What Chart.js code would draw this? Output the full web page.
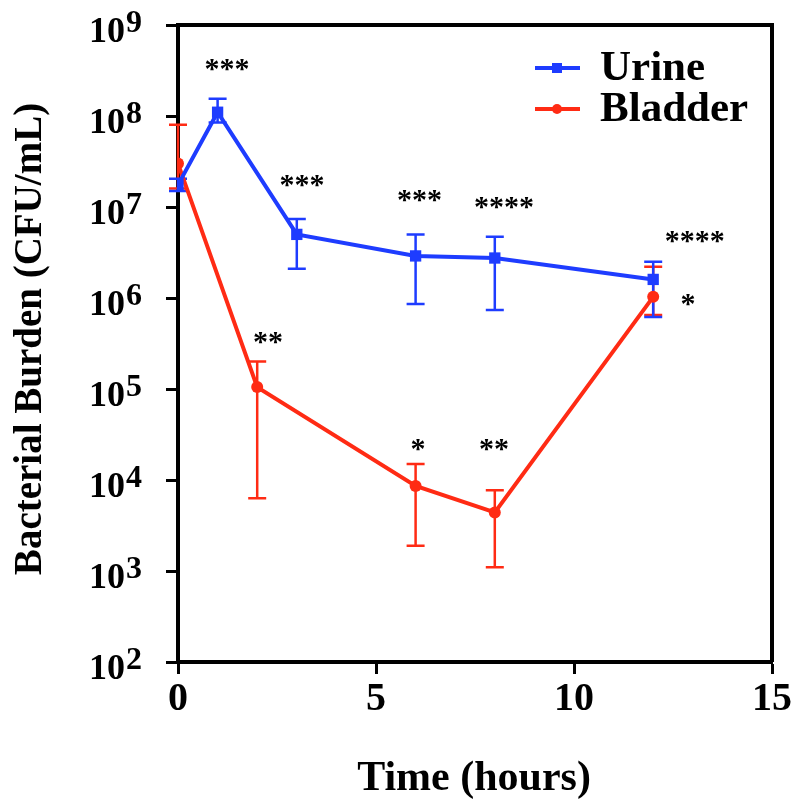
<!DOCTYPE html>
<html>
<head>
<meta charset="utf-8">
<script src="https://cdn.jsdelivr.net/npm/chart.js@4.4.0/dist/chart.umd.min.js"></script>
<style>
  html, body { margin: 0; padding: 0; background: #fff; }
  #chart { display: block; }
</style>
</head>
<body>
<canvas id="chart" width="798" height="804"></canvas>
<script>
// data (CFU/mL, log scale)
const urineTimes = [0, 1, 3, 6, 8, 12];
const urineValues = [1.75e7, 1.1e8, 5.0e6, 2.9e6, 2.75e6, 1.6e6];
const urineHigh = [2.05e7, 1.55e8, 7.4e6, 5.0e6, 4.7e6, 2.5e6];
const urineLow = [1.5e7, 8.5e7, 2.1e6, 8.6e5, 7.4e5, 6.2e5];

const bladderTimes = [0, 2, 6, 8, 12];
const bladderValues = [3.0e7, 1.05e5, 8.6e3, 4.4e3, 1.03e6];
const bladderHigh = [8.0e7, 2.0e5, 1.5e4, 7.7e3, 2.2e6];
const bladderLow = [1.6e7, 6.3e3, 1.9e3, 1.1e3, 6.5e5];

const xTicks = [0, 5, 10, 15];
const yTicks = [1e2, 1e3, 1e4, 1e5, 1e6, 1e7, 1e8, 1e9];

// significance marks (time, CFU/mL, text)
const starTimes = [1.24, 3.13, 2.27, 6.1, 8.23, 13.05, 12.88, 6.06, 7.98];
const starValues = [3.6e8, 1.9e7, 3.6e5, 1.3e7, 1.1e7, 4.7e6, 9.5e5, 2.4e4, 2.4e4];
const starLabels = ['***', '***', '**', '***', '****', '****', '*', '*', '**'];

const blue = '#1e3cff';
const red = '#ff2b14';
const serif = '"Liberation Serif", "Times New Roman", serif';

function toPoints(xs, ys) {
  return xs.map((t, i) => ({ x: t, y: ys[i] }));
}

function drawErrorBars(ctx, xScale, yScale, xs, lows, highs, color) {
  ctx.strokeStyle = color;
  ctx.lineWidth = 2.5;
  xs.forEach((t, i) => {
    const px = xScale.getPixelForValue(t);
    const top = yScale.getPixelForValue(highs[i]);
    const bottom = yScale.getPixelForValue(lows[i]);
    ctx.beginPath();
    ctx.moveTo(px, top);
    ctx.lineTo(px, bottom);
    ctx.moveTo(px - 9, top);
    ctx.lineTo(px + 9, top);
    ctx.moveTo(px - 9, bottom);
    ctx.lineTo(px + 9, bottom);
    ctx.stroke();
  });
}

const errorBarPlugin = {
  id: 'errorBars',
  beforeDatasetsDraw(chart) {
    const { ctx, scales } = chart;
    ctx.save();
    drawErrorBars(ctx, scales.x, scales.y, bladderTimes, bladderLow, bladderHigh, red);
    drawErrorBars(ctx, scales.x, scales.y, urineTimes, urineLow, urineHigh, blue);
    ctx.restore();
  }
};

const decorPlugin = {
  id: 'decor',
  afterDraw(chart) {
    const { ctx, chartArea, scales } = chart;
    const xs = scales.x, ys = scales.y;
    ctx.save();

    // frame on top and right
    ctx.strokeStyle = '#000';
    ctx.lineWidth = 4;
    ctx.beginPath();
    ctx.moveTo(chartArea.left, chartArea.top);
    ctx.lineTo(chartArea.right, chartArea.top);
    ctx.lineTo(chartArea.right, chartArea.bottom);
    ctx.stroke();

    ctx.fillStyle = '#000';

    // x tick labels
    ctx.font = 'bold 40px ' + serif;
    ctx.textAlign = 'center';
    ctx.textBaseline = 'alphabetic';
    xTicks.forEach(t => {
      ctx.fillText(String(t), xs.getPixelForValue(t), 710);
    });

    // y tick labels 10^n
    yTicks.forEach(v => {
      const py = ys.getPixelForValue(v);
      const exp = Math.round(Math.log10(v));
      ctx.font = 'bold 36px ' + serif;
      ctx.textAlign = 'right';
      ctx.fillText('10', 125, py + 17);
      ctx.font = 'bold 32px ' + serif;
      ctx.textAlign = 'left';
      ctx.fillText(String(exp), 126, py + 7);
    });

    // axis titles
    ctx.font = 'bold 42px ' + serif;
    ctx.textAlign = 'center';
    ctx.fillText('Time (hours)', 474, 790);

    ctx.save();
    ctx.translate(31, 339);
    ctx.rotate(-Math.PI / 2);
    ctx.font = 'bold 39px ' + serif;
    ctx.textBaseline = 'middle';
    ctx.fillText('Bacterial Burden (CFU/mL)', 0, 0);
    ctx.restore();

    // significance stars
    ctx.font = 'bold 30px ' + serif;
    ctx.textAlign = 'center';
    ctx.textBaseline = 'middle';
    starTimes.forEach((t, i) => {
      ctx.fillText(starLabels[i], xs.getPixelForValue(t), ys.getPixelForValue(starValues[i]) + 5);
    });

    // legend
    const rows = [
      { label: 'Urine', color: blue, shape: 'rect', y: 68 },
      { label: 'Bladder', color: red, shape: 'circle', y: 109 }
    ];
    rows.forEach(r => {
      ctx.strokeStyle = r.color;
      ctx.fillStyle = r.color;
      ctx.lineWidth = 4;
      ctx.beginPath();
      ctx.moveTo(535, r.y);
      ctx.lineTo(580, r.y);
      ctx.stroke();
      if (r.shape === 'rect') {
        ctx.fillRect(552, r.y - 5, 10, 10);
      } else {
        ctx.beginPath();
        ctx.arc(557, r.y, 5, 0, Math.PI * 2);
        ctx.fill();
      }
      ctx.fillStyle = '#000';
      ctx.font = 'bold 43px ' + serif;
      ctx.textAlign = 'left';
      ctx.textBaseline = 'middle';
      ctx.fillText(r.label, 600, r.y + 1);
    });

    ctx.restore();
  }
};

const ctx = document.getElementById('chart').getContext('2d');
new Chart(ctx, {
  type: 'line',
  data: {
    datasets: [
      {
        label: 'Urine',
        data: toPoints(urineTimes, urineValues),
        borderColor: blue,
        backgroundColor: blue,
        borderWidth: 4,
        pointStyle: 'rect',
        pointRadius: 8,
        pointBorderWidth: 0,
        tension: 0
      },
      {
        label: 'Bladder',
        data: toPoints(bladderTimes, bladderValues),
        borderColor: red,
        backgroundColor: red,
        borderWidth: 4,
        pointStyle: 'circle',
        pointRadius: 6,
        pointBorderWidth: 0,
        tension: 0
      }
    ]
  },
  options: {
    responsive: false,
    animation: false,
    devicePixelRatio: 1,
    layout: { padding: { left: 0, top: 25, right: 26, bottom: 0 } },
    plugins: {
      legend: { display: false },
      tooltip: { enabled: false }
    },
    scales: {
      x: {
        type: 'linear',
        min: 0,
        max: 15,
        afterBuildTicks: scale => { scale.ticks = xTicks.map(v => ({ value: v })); },
        afterFit: scale => { scale.height = 142; },
        ticks: { display: false },
        grid: { display: true, drawOnChartArea: false, drawTicks: true, tickLength: 12, tickWidth: 3, tickColor: '#000' },
        border: { display: true, color: '#000', width: 4 }
      },
      y: {
        type: 'logarithmic',
        min: 1e2,
        max: 1e9,
        afterBuildTicks: scale => { scale.ticks = yTicks.map(v => ({ value: v })); },
        afterFit: scale => { scale.width = 178; },
        ticks: { display: false },
        grid: { display: true, drawOnChartArea: false, drawTicks: true, tickLength: 12, tickWidth: 3, tickColor: '#000' },
        border: { display: true, color: '#000', width: 4 }
      }
    }
  },
  plugins: [errorBarPlugin, decorPlugin]
});
</script>
</body>
</html>
